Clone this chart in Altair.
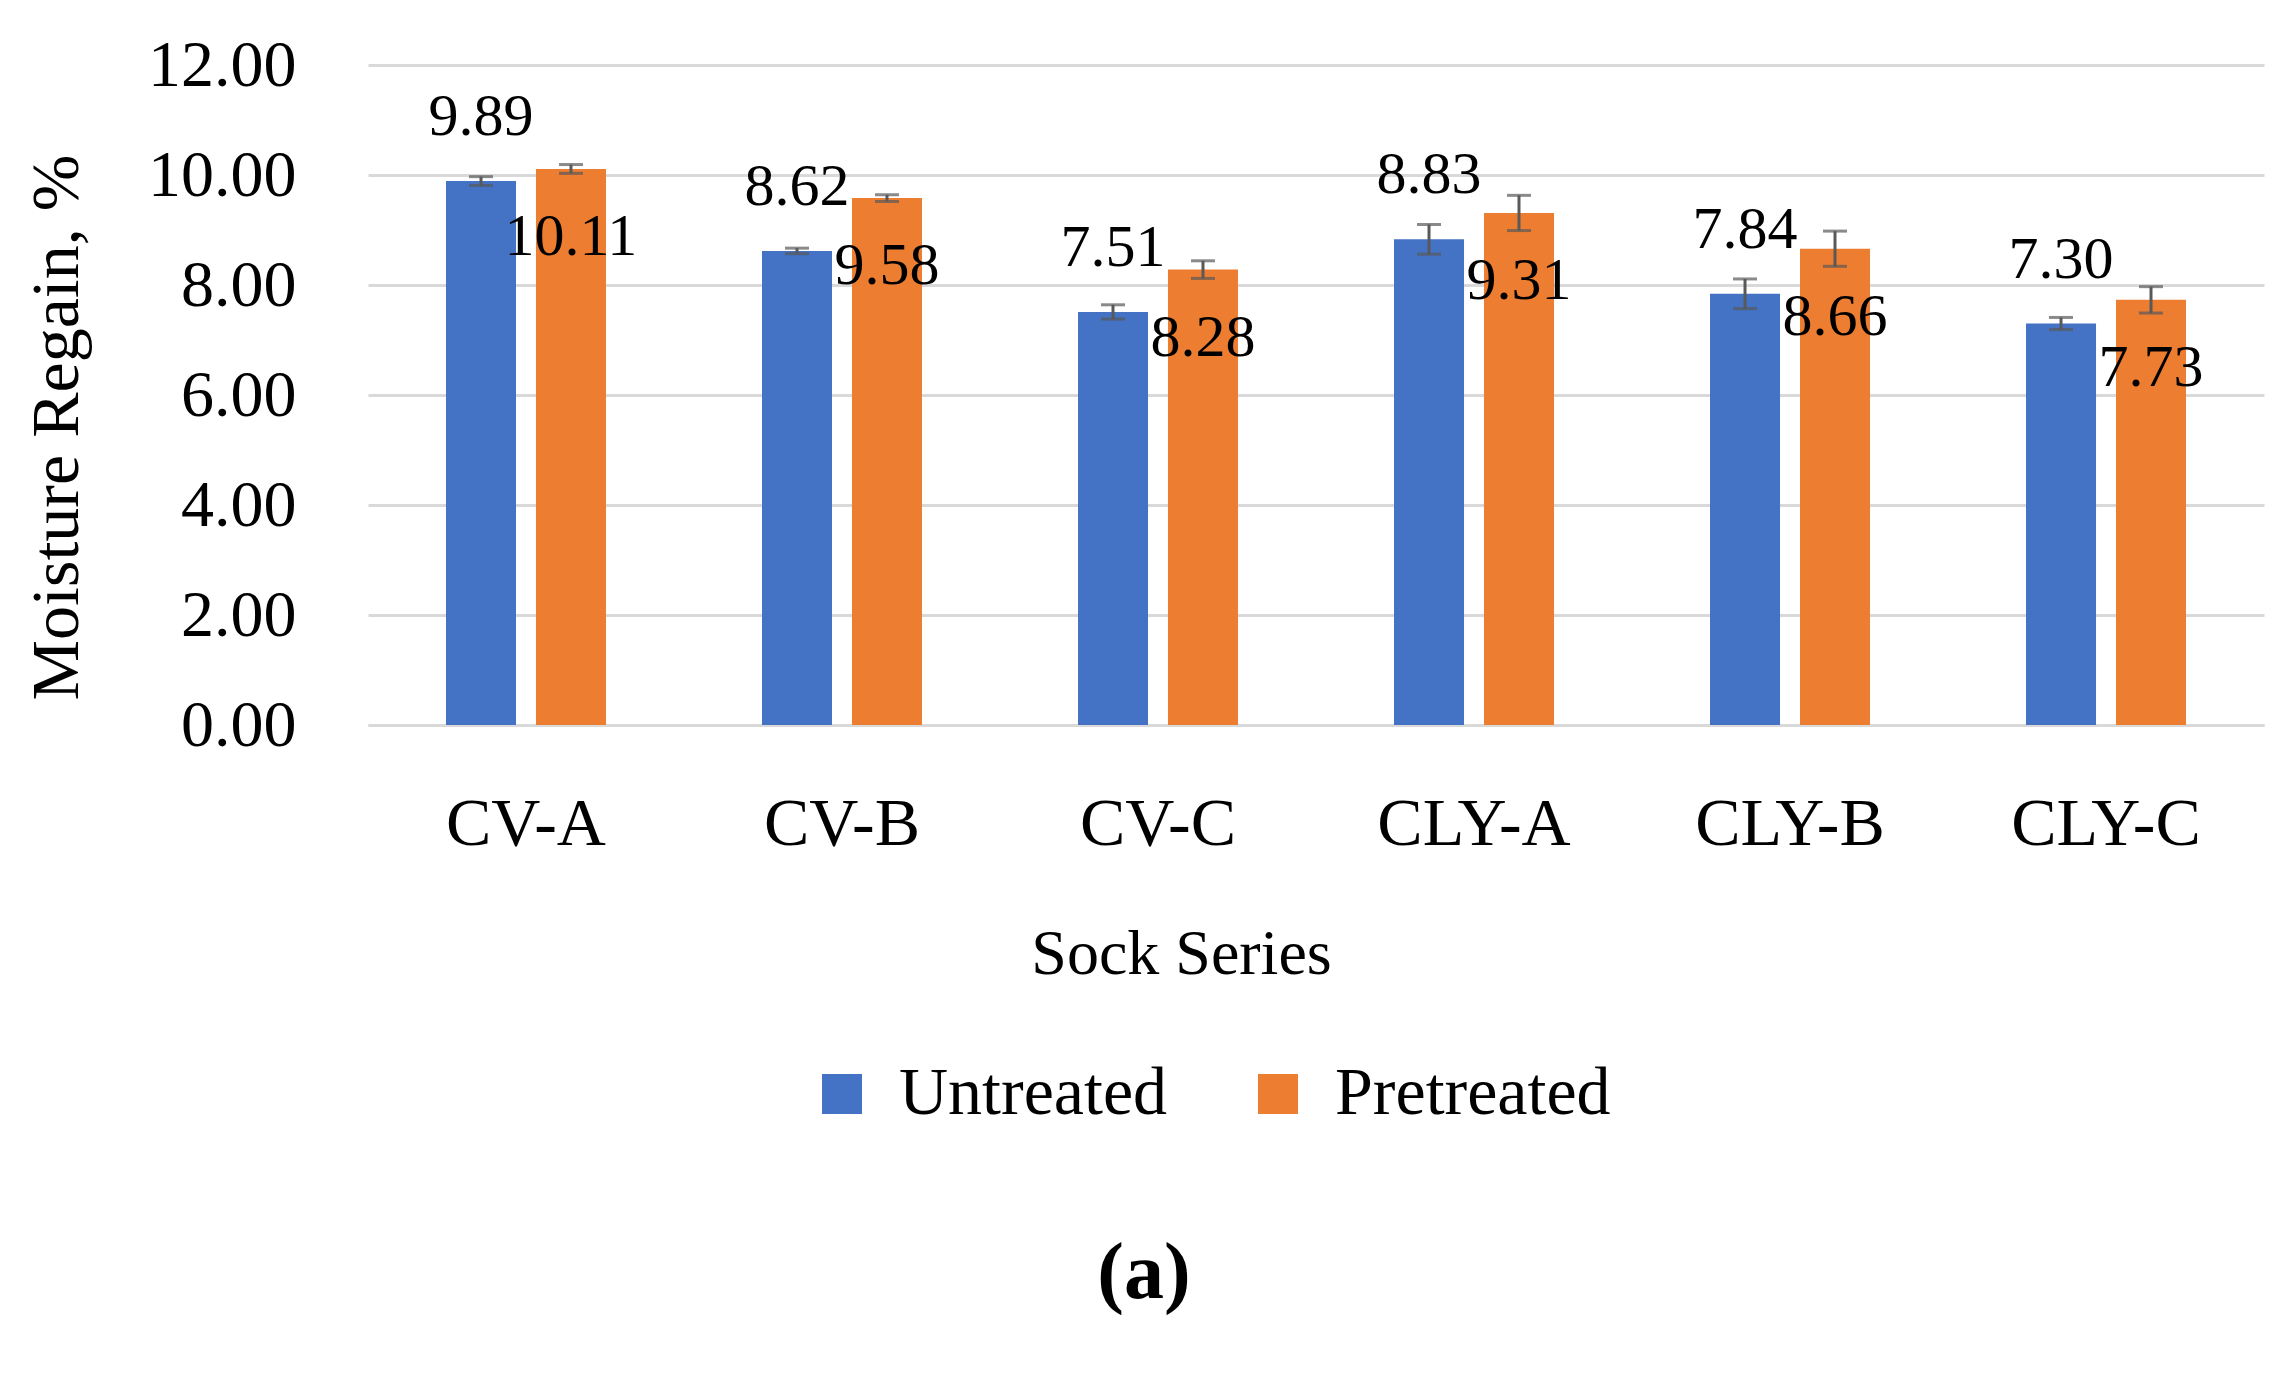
import altair as alt
import pandas as pd

categories = ["CV-A", "CV-B", "CV-C", "CLY-A", "CLY-B", "CLY-C"]
series = ["Untreated", "Pretreated"]
untreated = [9.89, 8.62, 7.51, 8.83, 7.84, 7.30]
pretreated = [10.11, 9.58, 8.28, 9.31, 8.66, 7.73]
untreated_err = [0.08, 0.05, 0.13, 0.27, 0.27, 0.11]
pretreated_err = [0.08, 0.06, 0.16, 0.32, 0.32, 0.24]
y_ticks = [0, 2, 4, 6, 8, 10, 12]

rows = []
for i, c in enumerate(categories):
    rows.append(dict(cat=c, series="Untreated", value=untreated[i], err=untreated_err[i]))
    rows.append(dict(cat=c, series="Pretreated", value=pretreated[i], err=pretreated_err[i]))
df = pd.DataFrame(rows)
df["lo"] = df["value"] - df["err"]
df["hi"] = df["value"] + df["err"]
df["label"] = df["value"].map(lambda v: f"{v:.2f}")

FONT = "Liberation Serif"
GRID = "#D9D9D9"
ERR = "#595959"
Y_TITLE = "Moisture Regain, %"

x_enc = alt.X(
    "cat:N",
    sort=categories,
    scale=alt.Scale(paddingInner=0.4937, paddingOuter=0.2468),
    axis=alt.Axis(
        title="Sock Series",
        labelAngle=0,
        labelFont=FONT,
        labelFontSize=68,
        labelColor="black",
        labelPadding=119,
        labelBaseline="alphabetic",
        labelLimit=500,
        ticks=False,
        tickSize=0,
        domain=True,
        domainColor=GRID,
        domainWidth=3,
        titleFont=FONT,
        titleFontSize=64,
        titleFontWeight="normal",
        titleColor="black",
        titleX=813,
        titleY=248,
        titleAlign="center",
        titleBaseline="alphabetic",
    ),
)
xoff_enc = alt.XOffset("series:N", sort=series, scale=alt.Scale(paddingInner=0.222, paddingOuter=0))

y_axis = alt.Axis(
    values=y_ticks,
    format=".2f",
    grid=True,
    gridColor=GRID,
    gridWidth=3,
    domain=False,
    ticks=False,
    tickSize=0,
    labelFont=FONT,
    labelFontSize=66,
    labelColor="black",
    labelPadding=72,
    title=Y_TITLE,
    titleFont=FONT,
    titleFontSize=68,
    titleFontWeight="normal",
    titleColor="black",
    titleX=-311,
    titleY=362,
    titleAlign="center",
    titleBaseline="middle",
    titleAngle=270,
    titleLimit=2000,
)
y_scale = alt.Scale(domain=[0, 12])


def y_of(field):
    return alt.Y(field, scale=y_scale, axis=y_axis, title=Y_TITLE)


color_enc = alt.Color(
    "series:N",
    sort=series,
    scale=alt.Scale(domain=series, range=["#4472C4", "#ED7D31"]),
    legend=alt.Legend(
        title=None,
        orient="none",
        direction="horizontal",
        legendX=440,
        legendY=995,
        symbolType="square",
        symbolSize=1600,
        symbolStrokeWidth=0,
        labelFont=FONT,
        labelFontSize=68,
        labelColor="black",
        labelOffset=23,
        labelLimit=600,
        columnPadding=76,
    ),
)

base = alt.Chart(df)

bars = base.mark_bar().encode(x=x_enc, xOffset=xoff_enc, y=y_of("value:Q"), color=color_enc)

rules = base.mark_rule(color=ERR, strokeWidth=3).encode(
    x=x_enc, xOffset=xoff_enc, y=y_of("lo:Q"), y2="hi:Q"
)
cap_lo = base.mark_tick(color=ERR, thickness=3, size=24).encode(
    x=x_enc, xOffset=xoff_enc, y=y_of("lo:Q")
)
cap_hi = base.mark_tick(color=ERR, thickness=3, size=24).encode(
    x=x_enc, xOffset=xoff_enc, y=y_of("hi:Q")
)

lab_u = base.transform_filter(alt.datum.series == "Untreated").mark_text(
    font=FONT, fontSize=60, color="black", baseline="middle", dy=-64
).encode(x=x_enc, xOffset=xoff_enc, y=y_of("value:Q"), text="label:N")
lab_p = base.transform_filter(alt.datum.series == "Pretreated").mark_text(
    font=FONT, fontSize=60, color="black", baseline="middle", dy=68
).encode(x=x_enc, xOffset=xoff_enc, y=y_of("value:Q"), text="label:N")

chart = (
    alt.layer(bars, rules, cap_lo, cap_hi, lab_u, lab_p)
    .properties(
        width=1896,
        height=660,
        autosize=alt.AutoSizeParams(type="none"),
        padding={"left": 360, "top": 57, "right": 6, "bottom": 646},
        view=alt.ViewBackground(stroke="transparent", strokeWidth=0),
        title=alt.TitleParams(
            text="(a)",
            orient="bottom",
            anchor="middle",
            dx=-172,
            offset=107,
            font=FONT,
            fontSize=80,
            fontWeight="bold",
            color="black",
        ),
    )
    .configure_view(stroke="transparent", strokeWidth=0)
    .configure(background="white")
)

chart.save("out.html", embed_options={"renderer": "svg", "actions": False})
